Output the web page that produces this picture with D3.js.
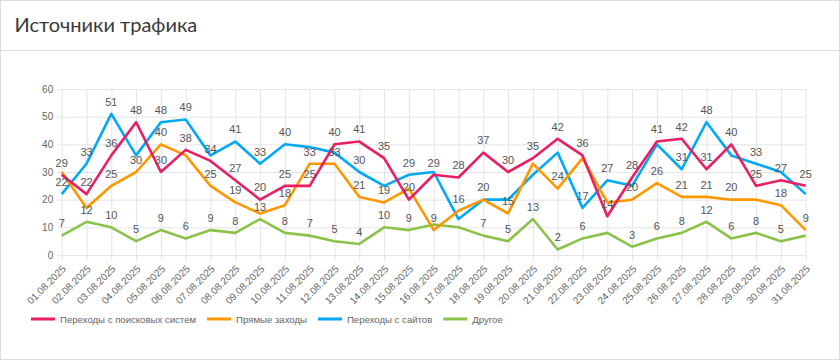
<!DOCTYPE html>
<html><head><meta charset="utf-8">
<script src="https://cdn.jsdelivr.net/npm/d3@7/dist/d3.min.js"></script>
<style>
html,body{margin:0;padding:0;background:#fff;}
svg{display:block;}
</style></head><body>
<svg id="chart" width="840" height="360"></svg>
<script>
// ---- data ----
const chartTitle = "Источники трафика";
const dates = ["01.08.2025","02.08.2025","03.08.2025","04.08.2025","05.08.2025","06.08.2025","07.08.2025","08.08.2025","09.08.2025","10.08.2025","11.08.2025","12.08.2025","13.08.2025","14.08.2025","15.08.2025","16.08.2025","17.08.2025","18.08.2025","19.08.2025","20.08.2025","21.08.2025","22.08.2025","23.08.2025","24.08.2025","25.08.2025","26.08.2025","27.08.2025","28.08.2025","29.08.2025","30.08.2025","31.08.2025"];
const yTicks = [0, 10, 20, 30, 40, 50, 60];
const seriesNames = ["Переходы с поисковых систем", "Прямые заходы", "Переходы с сайтов", "Другое"];
const searchValues = [29,22,36,48,30,38,34,27,20,25,25,40,41,35,20,29,28,37,30,35,42,36,14,28,41,42,31,40,25,27,25];
const directValues = [30,17,25,30,40,36,25,19,15,18,33,33,21,19,24,9,16,20,15,33,24,35,19,20,26,21,21,20,20,18,9];
const sitesValues  = [22,33,51,36,48,49,36,41,33,40,39,37,30,25,29,30,13,20,20,29,37,17,27,25,40,31,48,36,33,30,22];
const otherValues  = [7,12,10,5,9,6,9,8,13,8,7,5,4,10,9,11,10,7,5,13,2,6,8,3,6,8,12,6,8,5,7];
const seriesColors = ["#e91e63", "#ff9800", "#03a9f4", "#8bc34a"];

// ---- drawing ----
(function () {
const series = [searchValues, directValues, sitesValues, otherValues].map((v, k) => ({name: seriesNames[k], values: v, color: seriesColors[k], k}));
const svg = d3.select("#chart");
const W = 840, H = 360;
const pLeft = 61.7, pRight = 805.7, pTop = 89, pBottom = 255;
const axisFont = "'Liberation Sans', Arial, sans-serif";

svg.append("rect").attr("x", 0.5).attr("y", 0.5).attr("width", W - 1).attr("height", H - 1)
  .attr("fill", "#fff").attr("stroke", "#dcdcdc");
svg.append("line").attr("x1", 0).attr("x2", W).attr("y1", 50.5).attr("y2", 50.5).attr("stroke", "#dcdcdc");
svg.append("text").attr("x", 14.5).attr("y", 32).text(chartTitle)
  .attr("font-family", "Lato, 'Open Sans', sans-serif").attr("font-size", 20).attr("fill", "#3a3a3a");

const x = d3.scalePoint().domain(dates).range([pLeft, pRight]);
const y = d3.scaleLinear().domain([0, 60]).range([pBottom, pTop]);

// y axis with gridlines
const gy = svg.append("g").attr("transform", `translate(${pLeft - 4.5},0)`)
  .call(d3.axisLeft(y).tickValues(yTicks).tickSizeInner(-(pRight - pLeft + 4.5)).tickSizeOuter(0).tickPadding(4));
gy.select(".domain").remove();
gy.selectAll(".tick line").attr("stroke", "#e4e4e4");
gy.selectAll(".tick text").attr("font-family", axisFont).attr("font-size", 10).attr("fill", "#666");

// x axis with gridlines
const gx = svg.append("g").attr("transform", `translate(0,${pBottom + 6})`)
  .call(d3.axisBottom(x).tickSizeInner(-(pBottom + 6 - pTop)).tickSizeOuter(0));
gx.select(".domain").remove();
gx.selectAll(".tick line").attr("stroke", "#e4e4e4");
gx.selectAll(".tick text")
  .attr("font-family", axisFont).attr("font-size", 10).attr("fill", "#666")
  .attr("text-anchor", "end").attr("y", 0).attr("dy", "0.35em")
  .attr("transform", "translate(2,6) rotate(-45)");

// lines (first series on top)
const line = d3.line().x((d, i) => x(dates[i])).y(d => y(d));
svg.append("g").selectAll("path").data(series.slice().reverse()).join("path")
  .attr("d", s => line(s.values)).attr("fill", "none")
  .attr("stroke", s => s.color).attr("stroke-width", 2.6).attr("stroke-linejoin", "round");

// data labels with overlap hiding
const lg = svg.append("g");
const labels = [];
series.forEach(s => s.values.forEach((v, i) => {
  const t = lg.append("text").attr("x", x(dates[i])).attr("y", y(v) - 8.2)
    .attr("text-anchor", "middle").attr("font-family", axisFont).attr("font-size", 11)
    .attr("fill", "#555").text(v);
  const w = t.node().getComputedTextLength() + 4;
  const h = 18;
  const cx = x(dates[i]), cy = y(v) - 13;
  labels.push({node: t, set: s.k, idx: i, x0: cx - w / 2, x1: cx + w / 2, y0: cy - h / 2, y1: cy + h / 2, visible: true});
}));
labels.sort((a, b) => a.idx === b.idx ? b.set - a.set : b.idx - a.idx);
for (let i = labels.length - 1; i >= 0; --i) {
  const s0 = labels[i];
  for (let j = i - 1; j >= 0 && s0.visible; --j) {
    const s1 = labels[j];
    if (s1.visible && s0.x0 < s1.x1 && s1.x0 < s0.x1 && s0.y0 < s1.y1 && s1.y0 < s0.y1) s1.visible = false;
  }
}
labels.forEach(l => { if (!l.visible) l.node.remove(); });

// legend
const leg = svg.append("g");
let lx = 31;
const ly = 319;
series.forEach(s => {
  leg.append("line").attr("x1", lx).attr("x2", lx + 24).attr("y1", ly).attr("y2", ly)
    .attr("stroke", s.color).attr("stroke-width", 3);
  const t = leg.append("text").attr("x", lx + 29).attr("y", ly + 3.5)
    .attr("font-family", axisFont).attr("font-size", 9.6).attr("fill", "#666").text(s.name);
  lx += 29 + t.node().getComputedTextLength() + 11;
});
})();
</script>
</body></html>
